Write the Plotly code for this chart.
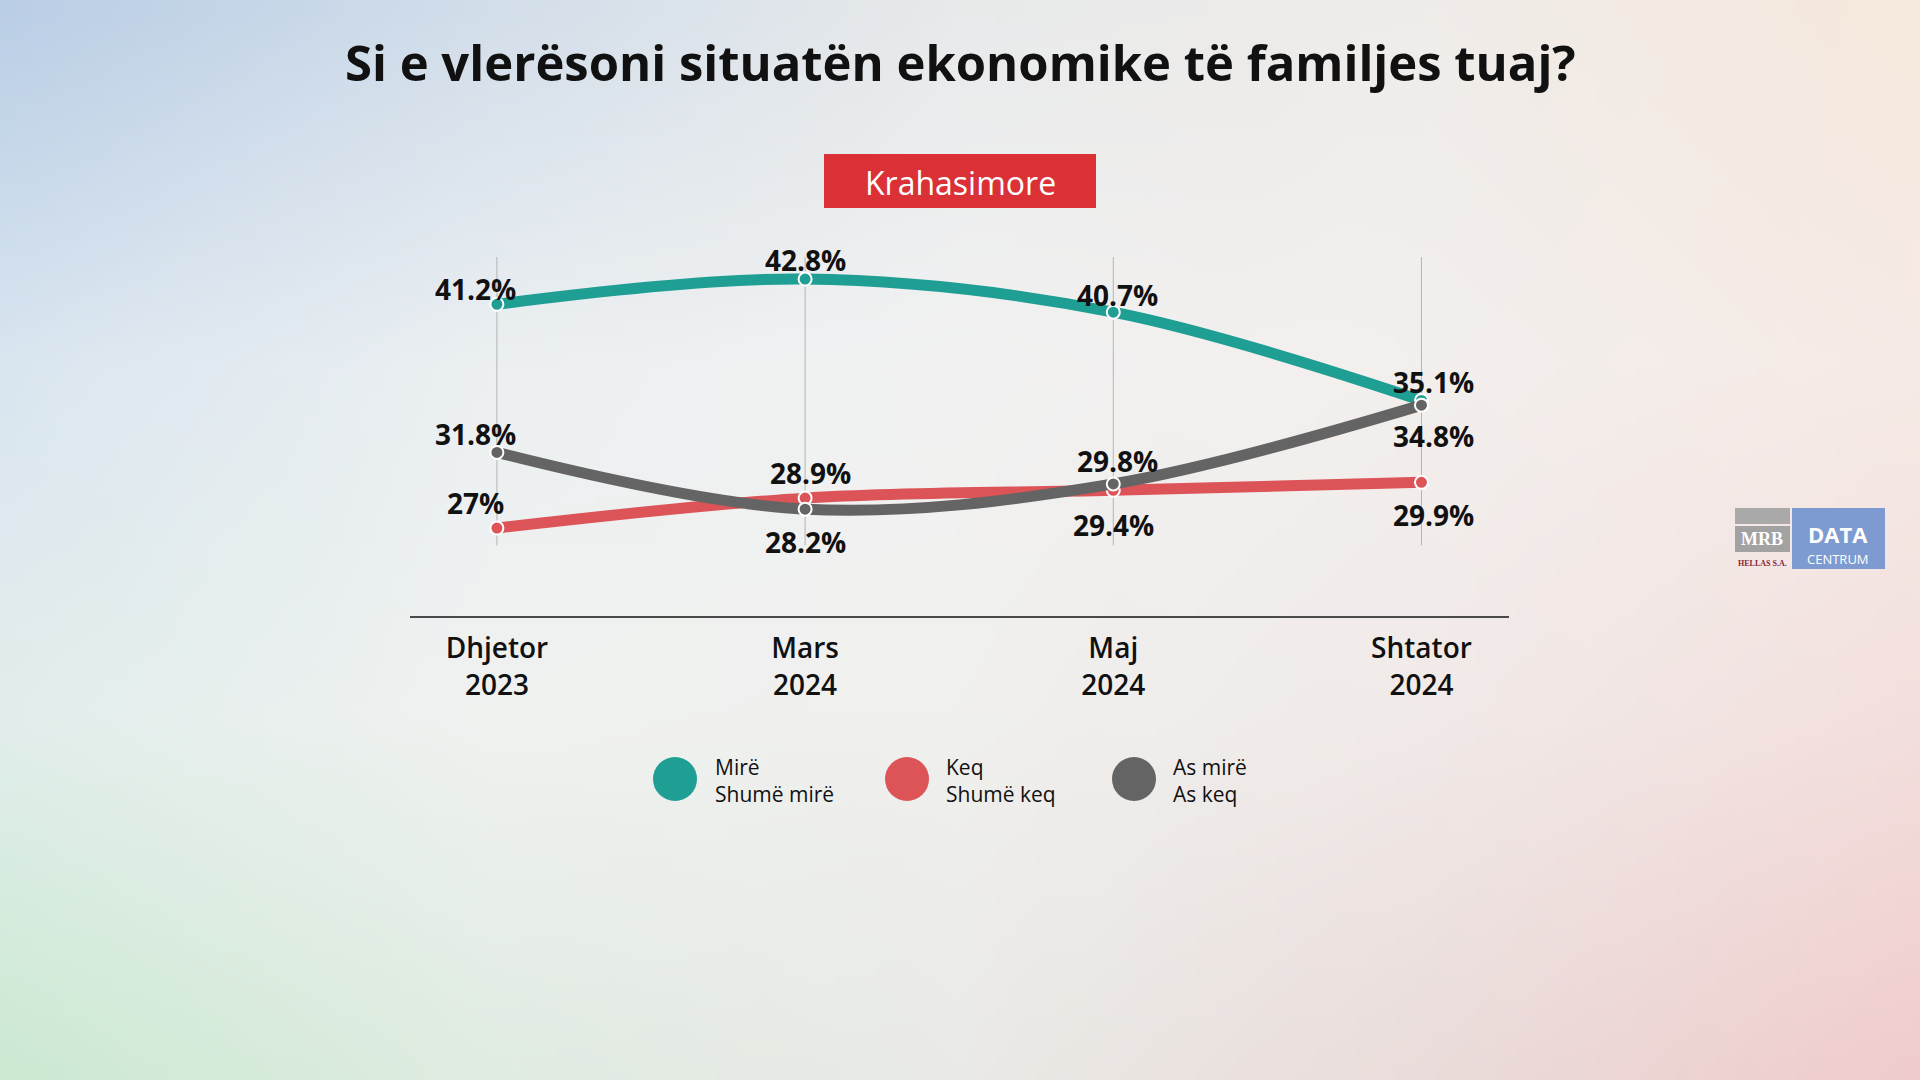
import base64, struct, zlib
import numpy as np
import plotly.graph_objects as go

# ---------------- data ----------------
categories = ["Dhjetor<br>2023", "Mars<br>2024", "Maj<br>2024", "Shtator<br>2024"]
mire_values = [41.2, 42.8, 40.7, 35.1]
keq_values = [27.0, 28.9, 29.4, 29.9]
asmire_values = [31.8, 28.2, 29.8, 34.8]
legend_line1 = ["Mirë", "Keq", "As mirë"]
legend_line2 = ["Shumë mirë", "Shumë keq", "As keq"]
title_text = "Si e vlerësoni situatën ekonomike të familjes tuaj?"
badge_text = "Krahasimore"

# ---------------- styles ----------------
W, H = 1920, 1080
GREEN = "#1f9e94"
RED = "#dc5458"
GRAY = "#646464"
FONT = "Open Sans"

def px(x):
    return x / W

def py(y):
    return 1 - y / H

# label offsets (xshift, yshift) in pixels for each series
green_off = [(-21, 15), (0, 19), (4, 17), (12, 18)]
gray_off = [(-21, 18), (0, -33), (4, 23), (12, -31)]
red_off = [(-21, 25), (5, 25), (0, -35), (12, -33)]

# ---------------- background image ----------------
def make_png(arr):
    h, w, _ = arr.shape
    raw = b"".join(b"\x00" + arr[i].tobytes() for i in range(h))
    def chunk(tag, data):
        c = struct.pack(">I", len(data)) + tag + data
        return c + struct.pack(">I", zlib.crc32(tag + data) & 0xFFFFFFFF)
    png = b"\x89PNG\r\n\x1a\n"
    png += chunk(b"IHDR", struct.pack(">IIBBBBB", w, h, 8, 2, 0, 0, 0))
    png += chunk(b"IDAT", zlib.compress(raw, 9))
    png += chunk(b"IEND", b"")
    return png

ctrl = np.array([
    [[186, 206, 230], [210, 222, 234], [232, 234, 235], [240, 236, 233], [246, 232, 220]],
    [[218, 230, 240], [236, 240, 242], [242, 242, 242], [243, 239, 237], [246, 235, 230]],
    [[226, 238, 236], [240, 242, 240], [240, 240, 238], [241, 234, 232], [243, 224, 222]],
    [[204, 233, 210], [224, 236, 226], [234, 234, 230], [234, 220, 218], [240, 204, 204]],
], dtype=float)
gh, gw = 108, 192
ys = np.linspace(0, ctrl.shape[0] - 1, gh)
xs = np.linspace(0, ctrl.shape[1] - 1, gw)
y0 = np.clip(np.floor(ys).astype(int), 0, ctrl.shape[0] - 2)
x0 = np.clip(np.floor(xs).astype(int), 0, ctrl.shape[1] - 2)
fy = (ys - y0)[:, None, None]
fx = (xs - x0)[None, :, None]
c00 = ctrl[y0][:, x0]
c01 = ctrl[y0][:, x0 + 1]
c10 = ctrl[y0 + 1][:, x0]
c11 = ctrl[y0 + 1][:, x0 + 1]
img = (c00 * (1 - fx) * (1 - fy) + c01 * fx * (1 - fy) + c10 * (1 - fx) * fy + c11 * fx * fy)
img = np.clip(img, 0, 255).astype(np.uint8)
bg_uri = "data:image/png;base64," + base64.b64encode(make_png(img)).decode()

# ---------------- figure ----------------
fig = go.Figure()

series = [
    ("Mirë / Shumë mirë", mire_values, GREEN),
    ("Keq / Shumë keq", keq_values, RED),
    ("As mirë / As keq", asmire_values, GRAY),
]
for name, vals, col in series:
    fig.add_trace(go.Scatter(
        x=categories, y=vals, name=name, mode="lines+markers",
        line=dict(color=col, width=11, shape="spline", smoothing=1.0),
        marker=dict(size=13, color=col, line=dict(color="white", width=2)),
        showlegend=False, hoverinfo="skip",
    ))

annotations = []
for vals, offs in [(mire_values, green_off), (keq_values, red_off), (asmire_values, gray_off)]:
    for cat, v, (dx, dy) in zip(categories, vals, offs):
        annotations.append(dict(
            x=cat, y=v, xref="x", yref="y", text=f"{v:g}%", showarrow=False,
            xshift=dx, yshift=dy, xanchor="center", yanchor="middle",
            font=dict(family=FONT, size=28, color="#111111", weight="bold"),
        ))

# vertical guide lines
shapes = []
for cat in categories:
    shapes.append(dict(type="line", xref="x", yref="y", x0=cat, x1=cat,
                       y0=25.9, y1=44.2, line=dict(color="#b4b4b4", width=1),
                       layer="below"))

# title
annotations.append(dict(x=0.5, y=py(62), xref="paper", yref="paper", text=title_text,
                        showarrow=False, xanchor="center", yanchor="middle",
                        font=dict(family=FONT, size=49, color="#111111", weight="bold")))

# badge
shapes.append(dict(type="rect", xref="paper", yref="paper", x0=px(824), x1=px(1096),
                   y0=py(208), y1=py(154), fillcolor="#da3036", line=dict(width=0)))
annotations.append(dict(x=px(960), y=py(182), xref="paper", yref="paper", text=badge_text,
                        showarrow=False, xanchor="center", yanchor="middle",
                        font=dict(family=FONT, size=32, color="white", weight=500)))

# legend
leg_cx = [675, 907, 1134]
leg_tx = [713, 944, 1171]
for i, col in enumerate([GREEN, RED, GRAY]):
    shapes.append(dict(type="circle", xref="paper", yref="paper",
                       x0=px(leg_cx[i] - 22), x1=px(leg_cx[i] + 22),
                       y0=py(779 + 22), y1=py(779 - 22),
                       fillcolor=col, line=dict(width=0)))
    annotations.append(dict(x=px(leg_tx[i]), y=py(780), xref="paper", yref="paper",
                            text=legend_line1[i] + "<br>" + legend_line2[i],
                            showarrow=False, xanchor="left", yanchor="middle", align="left",
                            font=dict(family=FONT, size=21, color="#111111", weight=500)))

# logo MRB / DATA CENTRUM
shapes.append(dict(type="rect", xref="paper", yref="paper", x0=px(1735), x1=px(1790),
                   y0=py(524), y1=py(508), fillcolor="#a9a9a9", line=dict(width=0)))
shapes.append(dict(type="rect", xref="paper", yref="paper", x0=px(1735), x1=px(1790),
                   y0=py(552), y1=py(526), fillcolor="#a2a2a2", line=dict(width=0)))
shapes.append(dict(type="rect", xref="paper", yref="paper", x0=px(1792), x1=px(1885),
                   y0=py(569), y1=py(508), fillcolor="#7d9bd1", line=dict(width=0)))
annotations.append(dict(x=px(1762), y=py(539), xref="paper", yref="paper", text="MRB",
                        showarrow=False, xanchor="center", yanchor="middle",
                        font=dict(family="Liberation Serif", size=18, color="white", weight="bold")))
annotations.append(dict(x=px(1762), y=py(563), xref="paper", yref="paper", text="HELLAS S.A.",
                        showarrow=False, xanchor="center", yanchor="middle",
                        font=dict(family="Liberation Serif", size=8, color="#8b2535", weight="bold")))
annotations.append(dict(x=px(1838), y=py(534), xref="paper", yref="paper", text="DATA",
                        showarrow=False, xanchor="center", yanchor="middle",
                        font=dict(family=FONT, size=22, color="white", weight="bold")))
annotations.append(dict(x=px(1838), y=py(559), xref="paper", yref="paper", text="CENTRUM",
                        showarrow=False, xanchor="center", yanchor="middle",
                        font=dict(family=FONT, size=13, color="white")))

fig.update_layout(
    width=W, height=H,
    margin=dict(l=0, r=0, t=0, b=0),
    paper_bgcolor="#eeeeee", plot_bgcolor="rgba(0,0,0,0)",
    showlegend=False,
    xaxis=dict(domain=[px(410), px(1509)], type="category",
               categoryorder="array", categoryarray=categories,
               range=[-0.282, 3.284], showgrid=False, zeroline=False,
               showline=True, linecolor="#4a4a4a", linewidth=1.5,
               ticks="", ticklabelstandoff=7,
               tickfont=dict(family=FONT, size=28, color="#111111", weight=600)),
    yaxis=dict(domain=[py(616), py(257)], range=[21.42, 44.2],
               showgrid=False, zeroline=False, showline=False,
               showticklabels=False, ticks=""),
    shapes=shapes,
    annotations=annotations,
    images=[dict(source=bg_uri, xref="paper", yref="paper", x=0, y=1,
                 sizex=1, sizey=1, sizing="stretch", layer="below",
                 xanchor="left", yanchor="top")],
)

fig.write_html("out.html")
